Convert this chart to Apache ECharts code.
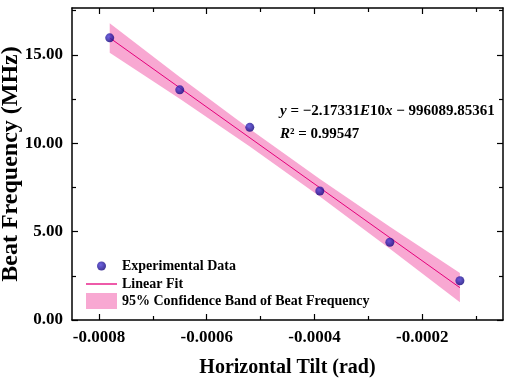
<!DOCTYPE html>
<html>
<head>
<meta charset="utf-8">
<script src="https://cdn.jsdelivr.net/npm/echarts@6/dist/echarts.min.js"></script>
<style>
  html, body { margin: 0; padding: 0; background: #fff; }
  #chart { width: 505px; height: 379px; }
</style>
</head>
<body>
<div id="chart"></div>
<script>
// measured points (x in rad, y in MHz)
var tiltX = [-0.00078, -0.00065, -0.00052, -0.00039, -0.00026, -0.00013];
var beatY = [15.96, 13.02, 10.9, 7.3, 4.4, 2.22];

// linear fit endpoints
var fitX = [-0.00078, -0.00013];
var fitY = [15.96, 1.83];

// 95% confidence band, read at the measured x positions
var bandUpper = [16.79, 13.75, 10.80, 7.97, 5.28, 2.66];
var bandLower = [15.12, 12.51, 9.81, 6.99, 4.03, 1.00];

// tick values
var xMajor = [-0.0008, -0.0006, -0.0004, -0.0002];
var xMinor = [-0.0007, -0.0005, -0.0003, -0.0001];
var yMajor = [0, 5, 10, 15];
var yMinor = [2.5, 7.5, 12.5, 17.5];

var xMin = -0.00085, xMax = -0.00005;
var yMin = 0, yMax = 17.65;

var serif = "'Liberation Serif', 'Times New Roman', serif";

var scatterData = [];
for (var i = 0; i < tiltX.length; i++) scatterData.push([tiltX[i], beatY[i]]);
var fitData = [];
for (var i = 0; i < fitX.length; i++) fitData.push([fitX[i], fitY[i]]);
var bandData = [];
for (var i = 0; i < tiltX.length; i++) bandData.push([tiltX[i], bandLower[i], bandUpper[i]]);

function frameX(pos, ticks, len, main) {
	return {
		type: 'value', gridIndex: main ? 0 : 1, position: pos,
		min: xMin, max: xMax,
		splitLine: {show: false},
		axisLine: {show: main, onZero: false, lineStyle: {color: '#000', width: 1.5}},
		axisTick: {show: true, inside: true, length: len, customValues: ticks, lineStyle: {color: '#000', width: 1.2}},
		axisLabel: {show: false}
	};
}
function frameY(pos, ticks, len, main) {
	return {
		type: 'value', gridIndex: main ? 0 : 1, position: pos,
		min: yMin, max: yMax,
		splitLine: {show: false},
		axisLine: {show: main, onZero: false, lineStyle: {color: '#000', width: 1.5}},
		axisTick: {show: true, inside: true, length: len, customValues: ticks, lineStyle: {color: '#000', width: 1.2}},
		axisLabel: {show: false}
	};
}

var bottomX = frameX('bottom', xMajor, 6, true);
bottomX.axisLabel = {
	show: true, customValues: xMajor, margin: 9,
	color: '#000', fontFamily: serif, fontWeight: 'bold', fontSize: 17,
	formatter: function(v) { return String(v); }
};
bottomX.name = 'Horizontal Tilt (rad)';
bottomX.nameLocation = 'middle';
bottomX.nameGap = 38;
bottomX.nameTextStyle = {color: '#000', fontFamily: serif, fontWeight: 'bold', fontSize: 20};

var leftY = frameY('left', yMajor, 6, true);
leftY.axisLabel = {
	show: true, customValues: yMajor, margin: 9,
	color: '#000', fontFamily: serif, fontWeight: 'bold', fontSize: 17,
	formatter: function(v) { return v.toFixed(2); }
};
leftY.name = 'Beat Frequency (MHz)';
leftY.nameLocation = 'middle';
leftY.nameGap = 49;
leftY.nameMoveOverlap = false;
leftY.nameTextStyle = {color: '#000', fontFamily: serif, fontWeight: 'bold', fontSize: 24};

var gridBox = {left: 72, right: 2, top: 8, bottom: 59, containLabel: false, outerBoundsMode: 'none'};

var legendText = {color: '#000', fontFamily: serif, fontWeight: 'bold', fontSize: 14};

var option = {
	backgroundColor: '#fff',
	animation: false,
	grid: [gridBox, gridBox],
	xAxis: [
		bottomX,
		frameX('top', xMajor, 6, true),
		frameX('bottom', xMinor, 4, false),
		frameX('top', xMinor, 4, false)
	],
	yAxis: [
		leftY,
		frameY('right', yMajor, 6, true),
		frameY('left', yMinor, 4, false),
		frameY('right', yMinor, 4, false)
	],
	legend: [
		{
			data: ['Experimental Data'], orient: 'vertical', left: 92, top: 254,
			itemWidth: 31, itemHeight: 9, icon: 'circle',
			textStyle: legendText
		},
		{
			data: [{name: 'Linear Fit', icon: 'rect'}], orient: 'vertical', left: 81, top: 272,
			itemWidth: 31, itemHeight: 1.3,
			textStyle: legendText
		},
		{
			data: ['95% Confidence Band of Beat Frequency'], orient: 'vertical', left: 81, top: 288,
			itemWidth: 31, itemHeight: 16, icon: 'rect',
			textStyle: legendText
		}
	],
	graphic: [
		{
			type: 'text', left: 280, top: 104,
			style: {
				text: '{i|y} = −2.17331{i|E}10{i|x} − 996089.85361',
				fill: '#000', font: 'bold 15px ' + serif,
				rich: {i: {fontStyle: 'italic', fontWeight: 'bold', fontSize: 15, fontFamily: serif, fill: '#000'}}
			}
		},
		{
			type: 'text', left: 280, top: 127,
			style: {
				text: '{i|R}² = 0.99547',
				fill: '#000', font: 'bold 15px ' + serif,
				rich: {i: {fontStyle: 'italic', fontWeight: 'bold', fontSize: 15, fontFamily: serif, fill: '#000'}}
			}
		}
	],
	series: [
		{
			name: '95% Confidence Band of Beat Frequency',
			type: 'custom',
			xAxisIndex: 0, yAxisIndex: 0,
			z: 1,
			data: bandData,
			encode: {x: 0, y: [1, 2]},
			itemStyle: {color: '#f8a8d2'},
			renderItem: function(params, api) {
				if (params.dataIndex !== 0) return;
				var pts = [];
				for (var k = 0; k < bandData.length; k++) pts.push(api.coord([bandData[k][0], bandData[k][2]]));
				for (var k = bandData.length - 1; k >= 0; k--) pts.push(api.coord([bandData[k][0], bandData[k][1]]));
				return {
					type: 'polygon',
					shape: {points: pts},
					style: {fill: '#f8a8d2'}
				};
			}
		},
		{
			name: 'Linear Fit',
			type: 'line',
			xAxisIndex: 0, yAxisIndex: 0,
			z: 2,
			data: fitData,
			symbol: 'none',
			lineStyle: {color: '#e5007a', width: 1},
			itemStyle: {color: '#e5007a'}
		},
		{
			name: 'Experimental Data',
			type: 'scatter',
			xAxisIndex: 0, yAxisIndex: 0,
			z: 3,
			data: scatterData,
			symbolSize: 9,
			itemStyle: {
				color: {
					type: 'radial', x: 0.4, y: 0.38, r: 0.6,
					colorStops: [{offset: 0, color: '#4a3bd8'}, {offset: 1, color: '#14067f'}]
				}
			}
		}
	]
};

var myChart = echarts.init(document.getElementById('chart'));
myChart.setOption(option);
</script>
</body>
</html>
